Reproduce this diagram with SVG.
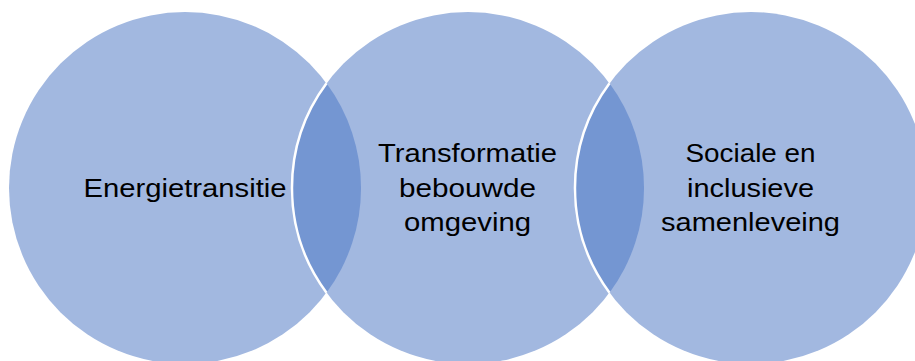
<svg xmlns="http://www.w3.org/2000/svg" width="915" height="361" viewBox="0 0 915 361">
<style>
.c{fill:#A2B8E0;}
.lens{fill:#7496D2;}
.edge{fill:none;stroke:#FFFFFF;stroke-width:2.5;}
.t{font-family:"Liberation Sans","Arial",sans-serif;font-size:26px;fill:#000000;text-anchor:middle;}
</style>
<rect width="915" height="361" fill="#FFFFFF"/>
<g id="node-energie">
<circle class="c" cx="185" cy="188" r="176"/>
<text class="t" x="185" y="197" textLength="203" lengthAdjust="spacingAndGlyphs">Energietransitie</text>
</g>
<g id="node-transformatie">
<circle class="c" cx="468" cy="188" r="176"/>
<text class="t" x="467.5" y="162" textLength="179" lengthAdjust="spacingAndGlyphs">Transformatie</text>
<text class="t" x="467.5" y="197" textLength="137" lengthAdjust="spacingAndGlyphs">bebouwde</text>
<text class="t" x="467.5" y="231" textLength="127" lengthAdjust="spacingAndGlyphs">omgeving</text>
</g>
<g id="node-sociale">
<circle class="c" cx="751" cy="188" r="176"/>
<text class="t" x="750.5" y="162" textLength="130" lengthAdjust="spacingAndGlyphs">Sociale en</text>
<text class="t" x="750.5" y="197" textLength="127" lengthAdjust="spacingAndGlyphs">inclusieve</text>
<text class="t" x="750.5" y="231" textLength="179" lengthAdjust="spacingAndGlyphs">samenleveing</text>
</g>
<g id="overlaps">
<path class="lens" d="M326.5,83.3 A176,176 0 0,1 326.5,292.7 A176,176 0 0,1 326.5,83.3 Z"/>
<path class="edge" d="M326.5,292.7 A176,176 0 0,1 326.5,83.3"/>
<path class="lens" d="M609.5,83.3 A176,176 0 0,1 609.5,292.7 A176,176 0 0,1 609.5,83.3 Z"/>
<path class="edge" d="M609.5,292.7 A176,176 0 0,1 609.5,83.3"/>
</g>
</svg>
